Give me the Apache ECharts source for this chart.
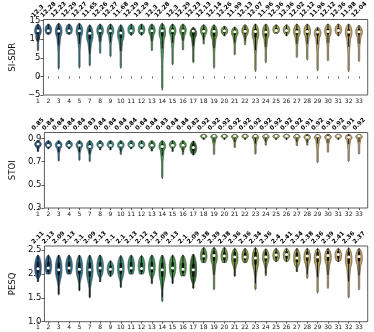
<!DOCTYPE html>
<html><head><meta charset="utf-8">
<script src="https://cdn.jsdelivr.net/npm/echarts/dist/echarts.min.js"></script>
<style>html,body{margin:0;padding:0;background:#fff}#c{width:374px;height:332px}</style>
</head><body><div id="c"></div>
<script>
const categories = ['1','2','3','4','5','7','8','9','10','11','12','13','14','15','16','17','18','19','20','21','22','23','24','25','26','27','28','29','30','31','32','33'];

// SI-SDR (labels on top are the medians)
const sdrMedian = [12.3,12.28,12.23,12.29,12.27,11.65,12.26,12.27,11.68,12.29,12.29,12.3,12.28,12.3,12.29,12.23,12.13,12.14,12.26,11.99,12.13,12.07,11.96,12.36,12.36,12.02,12.12,11.96,12.12,12.36,11.98,12.04];
const sdrTop = [14.1,14.1,14.3,14.1,14.3,13.9,14.1,14.1,13.9,14.1,14.1,14.1,14.3,14.1,14.1,13.2,13.9,13.9,13.5,13.3,13.9,14.1,14.1,13.9,13.9,14.1,14.1,13.2,14.1,14.1,14.1,13.7];
const sdrBottom = [6.9,11.3,1.9,11.3,2.2,2.8,6.2,5.3,2.2,11.1,11.1,6.9,-3.7,3.1,7.1,3.7,8.7,2.2,10.9,5.8,8.5,1.3,3.7,11.6,10.9,5.1,4.4,1.5,4.2,10.9,1.3,4.0];
const sdrQ1 = [11.5,11.8,11.2,11.8,11.3,10.0,11.5,11.5,10.3,11.8,11.8,11.6,10.8,11.4,11.6,11.0,11.6,10.8,11.7,11.2,11.5,10.5,10.8,11.9,11.8,11.2,11.2,11.0,11.3,11.8,10.8,11.2];
const sdrQ3 = [13.0,12.9,13.0,12.9,13.0,12.7,12.9,13.0,12.6,12.9,12.9,13.0,13.0,13.0,12.9,12.8,12.8,12.9,12.8,12.6,12.8,12.8,12.7,13.0,12.9,12.8,12.8,12.6,12.8,13.0,12.7,12.8];

// STOI
const stoiMedian = [0.85,0.84,0.84,0.84,0.84,0.83,0.84,0.84,0.84,0.84,0.84,0.84,0.83,0.84,0.84,0.82,0.92,0.92,0.92,0.92,0.92,0.92,0.92,0.92,0.92,0.92,0.91,0.92,0.91,0.92,0.91,0.92];
const stoiTop = [0.88,0.88,0.88,0.88,0.88,0.88,0.88,0.88,0.88,0.88,0.88,0.88,0.88,0.88,0.88,0.877,0.935,0.935,0.935,0.935,0.935,0.935,0.935,0.935,0.935,0.935,0.935,0.935,0.935,0.935,0.935,0.935];
const stoiBottom = [0.785,0.81,0.704,0.81,0.71,0.70,0.80,0.80,0.76,0.81,0.81,0.79,0.554,0.785,0.76,0.756,0.89,0.76,0.89,0.82,0.89,0.764,0.84,0.89,0.89,0.837,0.84,0.69,0.78,0.89,0.70,0.764];
const stoiQ1 = [0.835,0.83,0.825,0.83,0.825,0.815,0.83,0.83,0.825,0.83,0.83,0.825,0.81,0.83,0.825,0.79,0.91,0.905,0.91,0.905,0.91,0.9,0.905,0.91,0.91,0.905,0.9,0.9,0.9,0.91,0.895,0.905];
const stoiQ3 = [0.865,0.855,0.855,0.855,0.855,0.85,0.855,0.855,0.855,0.855,0.855,0.855,0.85,0.855,0.855,0.85,0.93,0.93,0.93,0.93,0.93,0.93,0.93,0.93,0.93,0.93,0.925,0.93,0.925,0.93,0.925,0.93];

// PESQ
const pesqMedian = [2.11,2.13,2.09,2.13,2.1,2.09,2.13,2.1,2.1,2.13,2.12,2.13,2.09,2.13,2.1,2.09,2.38,2.39,2.38,2.36,2.36,2.34,2.36,2.4,2.41,2.34,2.38,2.36,2.39,2.41,2.36,2.37];
const pesqTop = [2.40,2.40,2.40,2.40,2.40,2.40,2.40,2.28,2.39,2.40,2.39,2.40,2.40,2.40,2.40,2.42,2.56,2.56,2.56,2.54,2.54,2.56,2.53,2.54,2.54,2.54,2.54,2.54,2.54,2.54,2.55,2.54];
const pesqBottom = [1.84,2.0,1.56,2.0,1.65,1.50,1.84,1.95,1.72,2.0,2.0,1.80,1.42,1.80,1.96,1.70,2.24,1.67,2.24,1.95,2.24,1.67,1.96,2.26,2.26,2.05,1.91,1.60,1.70,2.26,1.50,1.67];
const pesqQ1 = [2.02,2.05,1.98,2.05,2.0,1.95,2.04,2.03,2.0,2.05,2.04,2.04,1.95,2.04,2.02,1.95,2.3,2.28,2.3,2.26,2.3,2.2,2.28,2.33,2.33,2.25,2.28,2.25,2.28,2.33,2.22,2.27];
const pesqQ3 = [2.25,2.25,2.24,2.25,2.24,2.24,2.25,2.18,2.23,2.25,2.24,2.25,2.24,2.25,2.23,2.22,2.46,2.48,2.46,2.46,2.45,2.46,2.46,2.47,2.48,2.45,2.47,2.46,2.48,2.48,2.47,2.47];

const palette = ['#2a5e8c','#2e6790','#316d90','#32738f','#347a8e','#35808a','#378586','#398a80','#3a8e78','#3c9270','#3e9567','#41975e','#449955','#4a9a4c','#529a46','#356f30','#5c9846','#629944','#6a9a43','#729b44','#7b9d46','#849f48','#8da14b','#97a34e','#a1a552','#aaa656','#b2a75a','#b9a75e','#c0a862','#c6a866','#cba86a','#cfa96d'];

const panels = [
  {name:'SI-SDR', top:19.5, height:75.5, min:-5, max:15.32, interval:5, fmt:v=>String(v).replace('-','\u2212'), med:sdrMedian, hi:sdrTop, lo:sdrBottom, q1:sdrQ1, q3:sdrQ3},
  {name:'STOI', top:132.5, height:75.5, min:0.3, max:0.95, interval:0.2, fmt:v=>v.toFixed(1), med:stoiMedian, hi:stoiTop, lo:stoiBottom, q1:stoiQ1, q3:stoiQ3},
  {name:'PESQ', top:246, height:75.7, min:1.0, max:2.59, interval:0.5, fmt:v=>v.toFixed(1), med:pesqMedian, hi:pesqTop, lo:pesqBottom, q1:pesqQ1, q3:pesqQ3}
];

const LABEL_SIZE = 6;
const measureCtx = document.createElement('canvas').getContext('2d');
const LABEL_FONT = 'bold ' + LABEL_SIZE + 'px "DejaVu Sans"';
measureCtx.font = LABEL_FONT;

function violinItem(params, api) {
  const i = api.value(0);
  const top = api.value(1), bot = api.value(2), q1 = api.value(3), med = api.value(4), q3 = api.value(5);
  const cx = api.coord([i, med])[0];
  const band = api.size([1, 0])[0];
  const W = band * 0.32;
  const iqr = q3 - q1;
  const neck = Math.max(bot, q1 - 0.35 * iqr);
  const prof = [];
  const N = 30;
  for (let k = 0; k <= N; k++) {
    const v = top - (top - neck) * k / N;
    const t = Math.min(1, Math.max(0, (v - neck) / ((top - neck) || 1)));
    const a = Math.max(0, Math.sin(Math.PI * Math.min(0.999, 0.12 + 0.88 * t)));
    prof.push([v, W * Math.pow(a, 0.55)]);
  }
  const hNeck = prof[prof.length - 1][1];
  if (neck - bot > 1e-9) {
    const M = 40;
    for (let k = 1; k <= M; k++) {
      const v = neck - (neck - bot) * k / M;
      const s = Math.min(1, Math.max(0, (v - bot) / (neck - bot)));
      let h = hNeck * Math.pow(s, 1.6);
      h = Math.max(h, s > 0.03 ? 0.7 : 0.25);
      prof.push([v, h]);
    }
  }
  const pts = [];
  prof.forEach(p => { pts.push([cx + p[1], api.coord([i, p[0]])[1]]); });
  for (let k = prof.length - 1; k >= 0; k--) {
    pts.push([cx - prof[k][1], api.coord([i, prof[k][0]])[1]]);
  }
  const wLo = Math.max(bot, q1 - 1.5 * iqr), wHi = Math.min(top, q3 + 1.5 * iqr);
  const yq3 = api.coord([i, q3])[1], yq1 = api.coord([i, q1])[1];
  const ym = api.coord([i, med])[1];
  return {
    type: 'group',
    children: [
      {type: 'polygon', shape: {points: pts}, style: {fill: palette[params.dataIndex], stroke: '#333', lineWidth: 0.6}},
      {type: 'line', shape: {x1: cx, y1: api.coord([i, wLo])[1], x2: cx, y2: api.coord([i, wHi])[1]}, style: {stroke: '#111', lineWidth: 1}},
      {type: 'rect', shape: {x: cx - 1.2, y: yq3, width: 2.4, height: yq1 - yq3}, style: {fill: '#111'}},
      {type: 'circle', shape: {cx: cx, cy: ym, r: 1.5}, style: {fill: '#fff'}}
    ]
  };
}

function labelItem(params, api) {
  const i = api.value(0);
  const txt = String(api.value(1));
  const cx = api.coord([i, api.value(1)])[0];
  const topY = params.coordSys.y;
  const w = measureCtx.measureText(txt).width;
  const bh = (w + LABEL_SIZE) * Math.SQRT1_2;
  return {
    type: 'text',
    x: cx, y: topY - 1 - bh / 2,
    rotation: Math.PI / 4,
    style: {text: txt, x: 0, y: 0, align: 'center', verticalAlign: 'middle', font: LABEL_FONT, fill: '#000'}
  };
}

const grid = [], xAxis = [], yAxis = [], series = [];
panels.forEach((p, k) => {
  grid.push({left: 32.8, width: 331.4, top: p.top, height: p.height});
  grid.push({left: 29.5, width: 338.2, top: p.top, height: p.height, show: true, borderColor: '#333', borderWidth: 0.8, backgroundColor: 'transparent'});
  xAxis.push({type: 'category', gridIndex: 2 * k, data: categories, boundaryGap: true,
    axisLine: {show: false}, axisTick: {show: true, alignWithLabel: true, length: 2, lineStyle: {color: '#333', width: 0.8}},
    axisLabel: {fontSize: 6, color: '#111', margin: 3, interval: 0, fontFamily: 'DejaVu Sans'}, splitLine: {show: false}});
  xAxis.push({type: 'value', gridIndex: 2 * k + 1, min: 0, max: 1, show: false});
  yAxis.push({type: 'value', gridIndex: 2 * k, min: p.min, max: p.max, show: false, splitLine: {show: false}});
  yAxis.push({type: 'value', gridIndex: 2 * k + 1, min: p.min, max: p.max, interval: p.interval,
    name: p.name, nameLocation: 'middle', nameGap: 21, nameTextStyle: {fontSize: 8.5, color: '#111', fontFamily: 'DejaVu Sans'},
    axisLine: {show: false}, axisTick: {show: true, length: 3, lineStyle: {color: '#333', width: 0.8}},
    axisLabel: {fontSize: 8.5, color: '#111', margin: 3, showMaxLabel: false, fontFamily: 'DejaVu Sans', formatter: p.fmt},
    splitLine: {show: false}});
  const data = p.med.map((m, i) => [i, p.hi[i], p.lo[i], p.q1[i], m, p.q3[i]]);
  series.push({type: 'custom', xAxisIndex: 2 * k, yAxisIndex: 2 * k, renderItem: violinItem, data: data, encode: {x: 0, y: [1, 2]}, silent: true, clip: false});
  series.push({type: 'custom', xAxisIndex: 2 * k, yAxisIndex: 2 * k, renderItem: labelItem, data: p.med.map((m, i) => [i, m]), encode: {x: 0, y: 1}, silent: true, clip: false});
});

const chart = echarts.init(document.getElementById('c'), null, {renderer: 'canvas'});
chart.setOption({animation: false, backgroundColor: '#fff', grid, xAxis, yAxis, series});
</script>
</body></html>
